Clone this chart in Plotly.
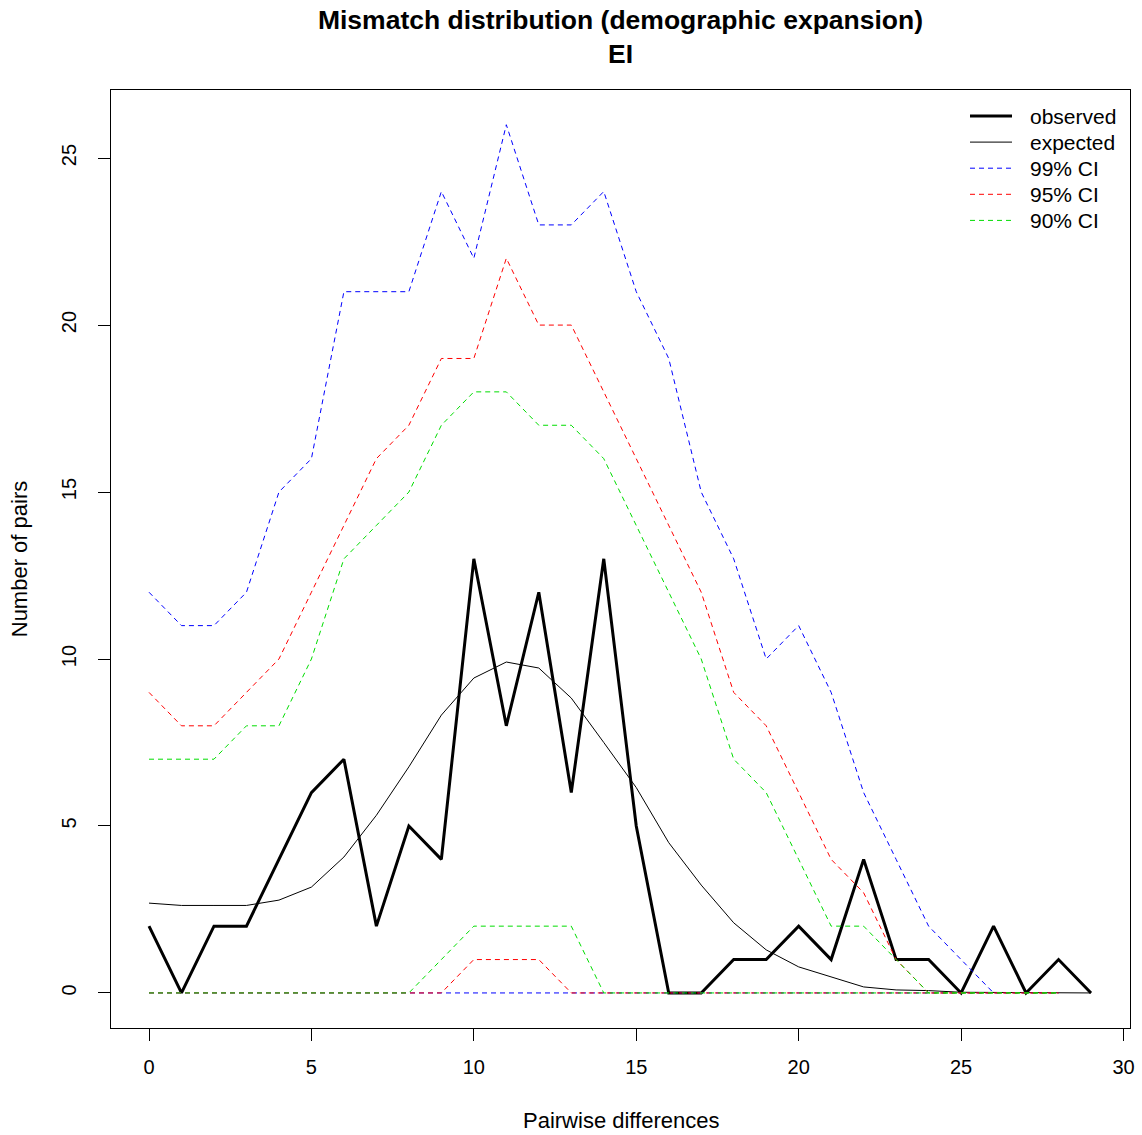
import plotly.graph_objects as go

# pairwise differences
diffs = list(range(30))
ci_diffs = list(range(29))

observed = [2, 0, 2, 2, 4, 6, 7, 2, 5, 4, 13, 8, 12, 6, 13, 5, 0, 0, 1, 1,
            2, 1, 4, 1, 1, 0, 2, 0, 1, 0]
expected = [2.69, 2.62, 2.62, 2.62, 2.78, 3.17, 4.07, 5.32, 6.77, 8.32, 9.43,
            9.91, 9.73, 8.83, 7.5, 6.15, 4.5, 3.23, 2.1, 1.29, 0.78, 0.48,
            0.18, 0.09, 0.07, 0.02, 0.01, 0.0, 0.0, 0.0]

# confidence envelopes (upper / lower), x = 0..28
ci99_hi = [12, 11, 11, 12, 15, 16, 21, 21, 21, 24, 22, 26, 23, 23, 24, 21, 19,
           15, 13, 10, 11, 9, 6, 4, 2, 1, 0]
ci99_lo = [0] * 29
ci95_hi = [9, 8, 8, 9, 10, 12, 14, 16, 17, 19, 19, 22, 20, 20, 18, 16, 14, 12,
           9, 8, 6, 4, 3, 1, 0, 0, 0, 0, 0]
ci95_lo = [0, 0, 0, 0, 0, 0, 0, 0, 0, 0, 1, 1, 1, 0, 0, 0, 0, 0, 0, 0, 0, 0,
           0, 0, 0, 0, 0, 0, 0]
ci90_hi = [7, 7, 7, 8, 8, 10, 13, 14, 15, 17, 18, 18, 17, 17, 16, 14, 12, 10,
           7, 6, 4, 2, 2, 1, 0, 0, 0, 0, 0]
ci90_lo = [0, 0, 0, 0, 0, 0, 0, 0, 0, 1, 2, 2, 2, 2, 0, 0, 0, 0, 0, 0, 0, 0,
           0, 0, 0, 0, 0, 0, 0]

legend_labels = ["observed", "expected", "99% CI", "95% CI", "90% CI"]

BLUE, RED, GREEN = "#0000FF", "#FF0000", "#00DD00"
DASH = "5px,4px"
FONT = "Liberation Sans, Arial, sans-serif"

# full-window figure; body margin is removed in the page (see post_script)
W, H = 1142, 1135
L, T, R, B = 111, 90, 12, 107
PW, PH = W - L - R, H - T - B

fig = go.Figure()

fig.add_trace(go.Scatter(x=diffs, y=observed, mode="lines", name="observed",
                         line=dict(color="black", width=3)))
fig.add_trace(go.Scatter(x=diffs, y=expected, mode="lines", name="expected",
                         line=dict(color="black", width=1)))

ci_sets = [("99% CI", ci99_hi, ci99_lo, BLUE),
           ("95% CI", ci95_hi, ci95_lo, RED),
           ("90% CI", ci90_hi, ci90_lo, GREEN)]
for name, hi, lo, col in ci_sets:
    fig.add_trace(go.Scatter(x=ci_diffs[:len(hi)], y=hi, mode="lines", name=name,
                             legendgroup=name,
                             line=dict(color=col, width=1, dash=DASH)))
    fig.add_trace(go.Scatter(x=ci_diffs[:len(lo)], y=lo, mode="lines", name=name,
                             legendgroup=name, showlegend=False,
                             line=dict(color=col, width=1, dash=DASH)))

# ── R-style legend (no box) drawn in the top-right corner ────────────────────
legend_styles = [("black", 3, "solid"), ("black", 1, "solid"),
                 (BLUE, 1, DASH), (RED, 1, DASH), (GREEN, 1, DASH)]
for i, (label, (col, wd, dash)) in enumerate(zip(legend_labels, legend_styles)):
    py = 26 + 26.1 * i          # px below the plot top
    yp = 1 - py / PH
    fig.add_shape(type="line", xref="paper", yref="paper",
                  x0=859 / PW, x1=901 / PW, y0=yp, y1=yp,
                  line=dict(color=col, width=wd, dash=dash))
    fig.add_annotation(text=label, xref="paper", yref="paper",
                       x=917 / PW, y=yp, xanchor="left", yanchor="middle",
                       showarrow=False, font=dict(size=21, color="black"))

# x-axis title placed like R's mtext line 3
fig.add_annotation(text="Pairwise differences", xref="paper", yref="paper",
                   x=0.5, y=0, yshift=-92, xanchor="center", yanchor="middle",
                   showarrow=False, font=dict(size=22, color="black"))

fig.update_layout(
    width=W, height=H,
    plot_bgcolor="white", paper_bgcolor="white",
    font=dict(family=FONT, size=20, color="black"),
    margin=dict(l=L, r=R, t=T, b=B, autoexpand=False),
    showlegend=False,
    title=dict(
        text="<b>Mismatch distribution (demographic expansion)<br>EI</b>",
        font=dict(size=26.5, color="black"),
        x=0.5, xref="paper", xanchor="center",
        y=1 - 29 / H, yref="container", yanchor="middle",
    ),
)

fig.update_xaxes(
    range=[-1.17, 30.2], tickvals=[0, 5, 10, 15, 20, 25, 30],
    showgrid=False, zeroline=False,
    showline=True, linecolor="black", linewidth=1, mirror=True,
    ticks="outside", ticklen=12, tickcolor="black", ticklabelstandoff=9,
    ticklabeloverflow="allow",
)
fig.update_yaxes(
    range=[-1.05, 27.04], tickvals=[0, 5, 10, 15, 20, 25],
    showgrid=False, zeroline=False,
    showline=True, linecolor="black", linewidth=1, mirror=True,
    ticks="outside", ticklen=12, tickcolor="black", tickangle=-90,
    ticklabelstandoff=14,
    title=dict(text="Number of pairs", standoff=24, font=dict(size=22)),
)

fig.write_html(
    "out.html",
    config={"displayModeBar": False},
    post_script="document.body.style.margin='0';"
                "document.body.style.overflow='hidden';",
)
